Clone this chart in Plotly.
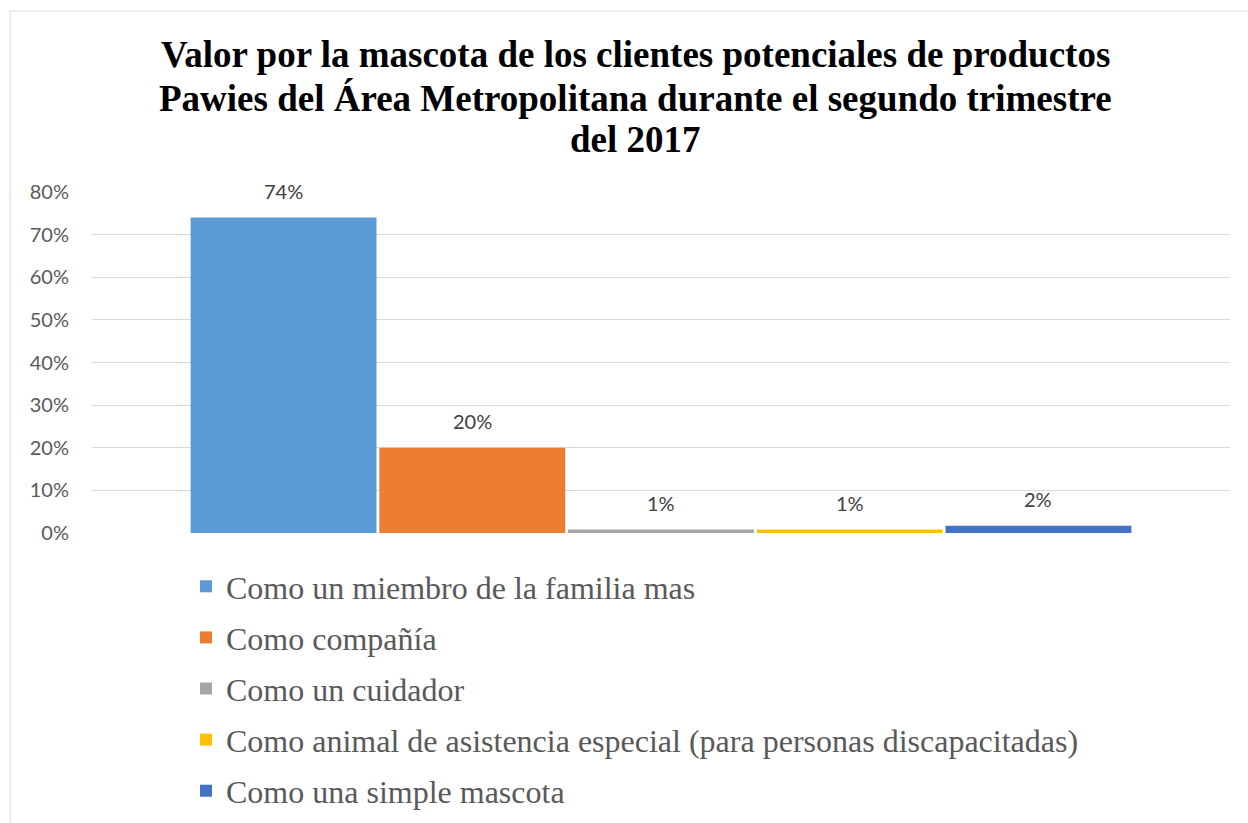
import plotly.graph_objects as go

categories = ["Como un miembro de la familia mas", "Como compañía", "Como un cuidador",
              "Como animal de asistencia especial (para personas discapacitadas)",
              "Como una simple mascota"]
values = [0.74, 0.20, 0.008, 0.008, 0.017]
colors = ["#5b9bd5", "#ed7d31", "#a5a5a5", "#ffc000", "#4472c4"]
title_lines = ["Valor por la mascota de los clientes potenciales de productos",
               "Pawies del Área Metropolitana durante el segundo trimestre",
               "del 2017"]
y_ticks = [0, 0.1, 0.2, 0.3, 0.4, 0.5, 0.6, 0.7, 0.8]

W, H = 1248, 823
L, R, T, B = 92, 18, 192, 290
PW, PH = W - L - R, H - T - B

def px_x(x):
    return (x - L) / PW

def px_y(y):
    return (H - B - y) / PH

fig = go.Figure()
for i, (c, v, col) in enumerate(zip(categories, values, colors)):
    fig.add_trace(go.Bar(x=[i], y=[v], name=c, marker=dict(color=col, line=dict(width=0)),
                         legendgroup=str(i), hoverinfo="skip"))
    fig.add_annotation(x=i, y=v, text=f"{v:.0%}", showarrow=False, yshift=27,
                       font=dict(family="Lato", size=20, color="#404040"))

title_y = [55, 98, 140]
for line, ty in zip(title_lines, title_y):
    fig.add_annotation(xref="paper", yref="paper", x=px_x(635), y=px_y(ty), text=line,
                       showarrow=False, xanchor="center", yanchor="middle",
                       font=dict(family="Liberation Serif", size=37, color="black", weight="bold"))

fig.update_layout(
    width=W, height=H,
    margin=dict(l=L, r=R, t=T, b=B, autoexpand=False),
    paper_bgcolor="white", plot_bgcolor="white",
    barmode="overlay", bargap=0.015,
    xaxis=dict(range=[-1.015, 5.015], showticklabels=False, showgrid=False, zeroline=False,
               showline=False, fixedrange=True),
    yaxis=dict(range=[0, 0.8], tickvals=y_ticks, tickformat=".0%", showgrid=True,
               gridcolor="#d9d9d9", gridwidth=1, zeroline=False, showline=False,
               ticklabelstandoff=22,
               tickfont=dict(family="Lato", size=20, color="#595959")),
    showlegend=True,
    legend=dict(orientation="v", x=px_x(186), xanchor="left",
                y=px_y(559), yanchor="top",
                font=dict(family="Liberation Serif", size=32, color="#595959"),
                traceorder="grouped", tracegroupgap=6.5, itemwidth=30,
                bgcolor="rgba(0,0,0,0)"),
    shapes=[dict(type="rect", xref="paper", yref="paper",
                 x0=px_x(10), x1=px_x(1260), y0=px_y(830), y1=px_y(11),
                 line=dict(color="#d9d9d9", width=1), fillcolor="rgba(0,0,0,0)", layer="below")],
)

fig.write_html("out.html")
